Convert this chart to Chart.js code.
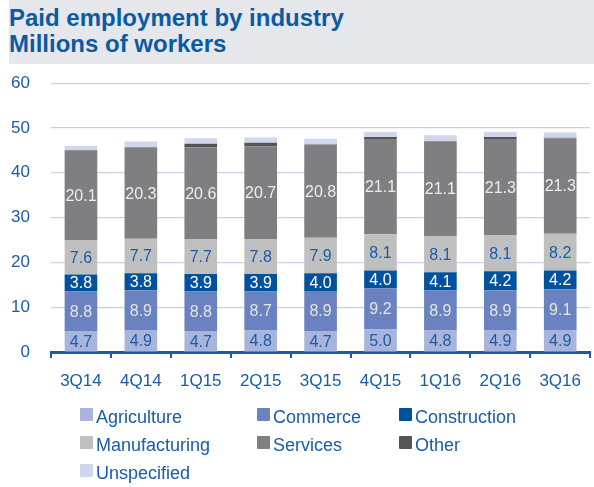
<!DOCTYPE html>
<html>
<head>
<meta charset="utf-8">
<script src="https://cdn.jsdelivr.net/npm/chart.js@4/dist/chart.umd.min.js"></script>
<style>
  html, body { margin: 0; padding: 0; background: #fff; }
  body { width: 594px; height: 487px; position: relative; overflow: hidden; font-family: "Liberation Sans", Arial, sans-serif; }
  #title {
    position: absolute; left: 9px; top: 0; width: 585px; height: 64px;
    background: #e6e7ea; color: #0b5aa3; font-weight: bold; font-size: 24px; line-height: 26px;
    box-sizing: border-box; padding: 5px 0 0 0;
  }
  #chart-box { position: absolute; left: 0; top: 52px; width: 594px; height: 347px; }
  #chart-box canvas { display: block; }
  #legend { position: absolute; left: 0; top: 0; width: 594px; height: 487px; pointer-events: none; }
  .leg-item { position: absolute; font-size: 18px; color: #1a5ca8; line-height: 20px; white-space: nowrap; }
  .leg-item span.sw { position: absolute; left: 0; top: 1px; width: 13px; height: 13px; border-radius: 1px; }
  .leg-item span.tx { position: absolute; left: 16px; top: 0; }
</style>
</head>
<body>
<div id="title">Paid employment by industry<br>Millions of workers</div>
<div id="chart-box"><canvas id="emp-chart" width="594" height="347"></canvas></div>
<div id="legend"></div>

<script>
// ============================================
// PAID EMPLOYMENT BY INDUSTRY (millions)
// ============================================

const quarters = ['3Q14', '4Q14', '1Q15', '2Q15', '3Q15', '4Q15', '1Q16', '2Q16', '3Q16'];

const agriculture   = [4.7, 4.9, 4.7, 4.8, 4.7, 5.0, 4.8, 4.9, 4.9];
const commerce      = [8.8, 8.9, 8.8, 8.7, 8.9, 9.2, 8.9, 8.9, 9.1];
const construction  = [3.8, 3.8, 3.9, 3.9, 4.0, 4.0, 4.1, 4.2, 4.2];
const manufacturing = [7.6, 7.7, 7.7, 7.8, 7.9, 8.1, 8.1, 8.1, 8.2];
const services      = [20.1, 20.3, 20.6, 20.7, 20.8, 21.1, 21.1, 21.3, 21.3];
const other         = [0.1, 0.1, 0.8, 0.8, 0.1, 0.6, 0.1, 0.6, 0.1];
const unspecified   = [0.9, 1.3, 1.2, 1.2, 1.2, 1.1, 1.3, 1.1, 1.2];

const yTicks = [0, 10, 20, 30, 40, 50, 60];

const seriesNames  = ['Agriculture', 'Commerce', 'Construction', 'Manufacturing', 'Services', 'Other', 'Unspecified'];
const seriesValues = [agriculture, commerce, construction, manufacturing, services, other, unspecified];
const seriesColors = ['#a8b4dc', '#6a82bf', '#00529f', '#bfbfbf', '#7f7f81', '#545457', '#d0d6ec'];
// label colour per series, null = no value label
const labelColors  = ['#1a5ca8', '#e4e4e4', '#ffffff', '#1a5ca8', '#ececec', null, null];

const BLUE = '#1a5ca8';

// Value labels drawn in the middle of each segment
const segmentLabels = {
    id: 'segmentLabels',
    afterDatasetsDraw(chart) {
        const ctx = chart.ctx;
        ctx.save();
        ctx.font = '16px "Liberation Sans", Arial, sans-serif';
        ctx.textAlign = 'center';
        ctx.textBaseline = 'middle';
        chart.data.datasets.forEach((ds, i) => {
            if (!labelColors[i]) return;
            const meta = chart.getDatasetMeta(i);
            meta.data.forEach((bar, j) => {
                const mid = (bar.y + bar.base) / 2;
                ctx.fillStyle = labelColors[i];
                ctx.fillText(ds.data[j].toFixed(1), bar.x, mid + 1);
            });
        });
        ctx.restore();
    }
};

const datasets = seriesNames.map((name, i) => ({
    label: name,
    data: seriesValues[i],
    backgroundColor: seriesColors[i],
    borderWidth: 0,
    categoryPercentage: 1,
    barPercentage: 0.545
}));

new Chart(document.getElementById('emp-chart'), {
    type: 'bar',
    data: { labels: quarters, datasets: datasets },
    options: {
        responsive: false,
        animation: false,
        layout: { padding: { top: 7, right: 0, left: 0, bottom: 0 } },
        plugins: {
            legend: { display: false },
            tooltip: { enabled: false }
        },
        scales: {
            x: {
                stacked: true,
                offset: true,
                grid: {
                    offset: true,
                    drawOnChartArea: false,
                    drawTicks: true,
                    tickLength: 6,
                    color: BLUE,
                    lineWidth: 2
                },
                border: { display: true, color: BLUE, width: 3 },
                ticks: {
                    color: BLUE,
                    padding: 13,
                    font: { family: '"Liberation Sans", Arial, sans-serif', size: 17 },
                    maxRotation: 0
                },
                afterFit(scale) { scale.height = 47; }
            },
            y: {
                stacked: true,
                min: 0,
                max: 60,
                afterBuildTicks(scale) { scale.ticks = yTicks.map(v => ({ value: v })); },
                grid: { color: '#c9d0ea', lineWidth: 1.2, drawTicks: false },
                border: { display: false },
                ticks: {
                    color: BLUE,
                    padding: 21,
                    font: { family: '"Liberation Sans", Arial, sans-serif', size: 17 }
                },
                afterFit(scale) { scale.width = 51; }
            }
        }
    },
    plugins: [segmentLabels]
});

// Legend in three columns under the chart
const legendBox = document.getElementById('legend');
const legCols = [80, 257, 399];
const legRows = [407, 435, 463];
seriesNames.forEach((name, i) => {
    const item = document.createElement('div');
    item.className = 'leg-item';
    item.style.left = legCols[i % 3] + 'px';
    item.style.top = legRows[Math.floor(i / 3)] + 'px';
    item.innerHTML = `<span class="sw" style="background:${seriesColors[i]}"></span><span class="tx">${name}</span>`;
    legendBox.appendChild(item);
});
</script>
</body>
</html>
